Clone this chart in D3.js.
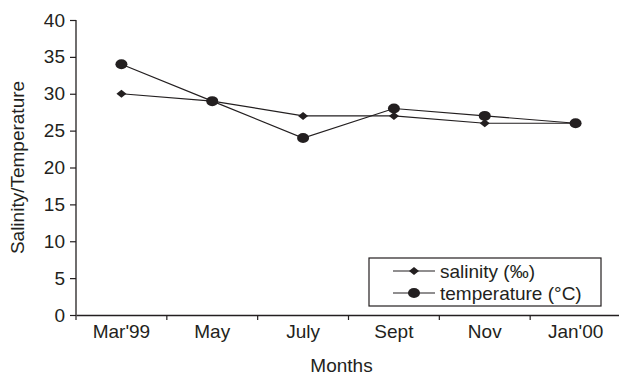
<!DOCTYPE html>
<html>
<head>
<meta charset="utf-8">
<script src="https://cdn.jsdelivr.net/npm/d3@7"></script>
<style>
  body { margin: 0; background: #fff; }
  text { font-family: "Liberation Sans", Arial, sans-serif; fill: #231f20; }
</style>
</head>
<body>
<svg id="chart" width="619" height="377"></svg>
<script>
var months = ["Mar'99", "May", "July", "Sept", "Nov", "Jan'00"];
var salinity = [30, 29, 27, 27, 26, 26];
var temperature = [34, 29, 24, 28, 27, 26];
var yTicks = [0, 5, 10, 15, 20, 25, 30, 35, 40];

var svg = d3.select("#chart"),
    margin = {top: 20, left: 76},
    width = 545,
    height = 295,
    g = svg.append("g").attr("transform", "translate(" + margin.left + "," + margin.top + ")");

var x = d3.scaleBand().domain(months).range([0, width]);
var y = d3.scaleLinear().domain([0, 40]).range([height, 0]);
var ink = "#231f20";
var fs = 19;

// axes
var xAxis = g.append("g")
  .attr("transform", "translate(0," + height + ")")
  .call(d3.axisBottom(x).tickSize(0).tickPadding(10));
xAxis.select(".domain").attr("stroke", ink).attr("stroke-width", 1.3);
xAxis.selectAll("text").attr("font-size", fs).attr("fill", ink);
// tick marks at band edges
xAxis.selectAll(".edge")
  .data(months.concat(["end"]))
  .enter().append("line")
  .attr("x1", function(d, i) { return i * x.step(); })
  .attr("x2", function(d, i) { return i * x.step(); })
  .attr("y1", 0).attr("y2", 5)
  .attr("stroke", ink).attr("stroke-width", 1.2);

var yAxis = g.append("g")
  .call(d3.axisLeft(y).tickValues(yTicks).tickSize(6).tickPadding(5));
yAxis.select(".domain").attr("stroke", ink).attr("stroke-width", 1.3).attr("d", "M0," + height + "V0");
yAxis.selectAll(".tick line").attr("stroke", ink).attr("stroke-width", 1.2);
yAxis.selectAll("text").attr("font-size", fs).attr("fill", ink);

// axis titles
svg.append("text")
  .attr("transform", "translate(24," + (margin.top + height / 2) + ") rotate(-90)")
  .attr("text-anchor", "middle")
  .attr("font-size", fs)
  .text("Salinity/Temperature");

svg.append("text")
  .attr("x", margin.left + width / 2 - 7)
  .attr("y", 372)
  .attr("text-anchor", "middle")
  .attr("font-size", fs)
  .text("Months");

// lines
var line = d3.line()
  .x(function(d, i) { return x(months[i]) + x.bandwidth() / 2; })
  .y(function(d) { return y(d); });

g.append("path").datum(salinity)
  .attr("fill", "none").attr("stroke", ink).attr("stroke-width", 1.2)
  .attr("d", line);
g.append("path").datum(temperature)
  .attr("fill", "none").attr("stroke", ink).attr("stroke-width", 1.2)
  .attr("d", line);

var diamond = "M0,-4L5,0L0,4L-5,0Z";

g.selectAll(".sal")
  .data(salinity)
  .enter().append("path")
  .attr("class", "sal")
  .attr("d", diamond)
  .attr("fill", ink)
  .attr("transform", function(d, i) {
    return "translate(" + (x(months[i]) + x.bandwidth() / 2) + "," + y(d) + ")";
  });

g.selectAll(".tmp")
  .data(temperature)
  .enter().append("ellipse")
  .attr("class", "tmp")
  .attr("cx", function(d, i) { return x(months[i]) + x.bandwidth() / 2; })
  .attr("cy", function(d) { return y(d); })
  .attr("rx", 6).attr("ry", 5)
  .attr("fill", ink);

// legend
var legend = svg.append("g").attr("transform", "translate(369,258)");
legend.append("rect")
  .attr("width", 232).attr("height", 48)
  .attr("fill", "#fff").attr("stroke", ink).attr("stroke-width", 1.2);

var items = [
  {label: "salinity (\u2030)", shape: "diamond"},
  {label: "temperature (\u00b0C)", shape: "circle"}
];
var row = legend.selectAll(".row")
  .data(items)
  .enter().append("g")
  .attr("transform", function(d, i) { return "translate(0," + (13 + i * 22) + ")"; });
row.append("line")
  .attr("x1", 24).attr("x2", 66)
  .attr("stroke", ink).attr("stroke-width", 1.2);
row.each(function(d) {
  var r = d3.select(this);
  if (d.shape === "diamond") {
    r.append("path").attr("d", diamond).attr("fill", ink).attr("transform", "translate(45,0)");
  } else {
    r.append("ellipse").attr("cx", 45).attr("cy", 0).attr("rx", 6).attr("ry", 5).attr("fill", ink);
  }
});
row.append("text")
  .attr("x", 71).attr("y", 0).attr("dy", "0.35em")
  .attr("font-size", fs)
  .text(function(d) { return d.label; });
</script>
</body>
</html>
